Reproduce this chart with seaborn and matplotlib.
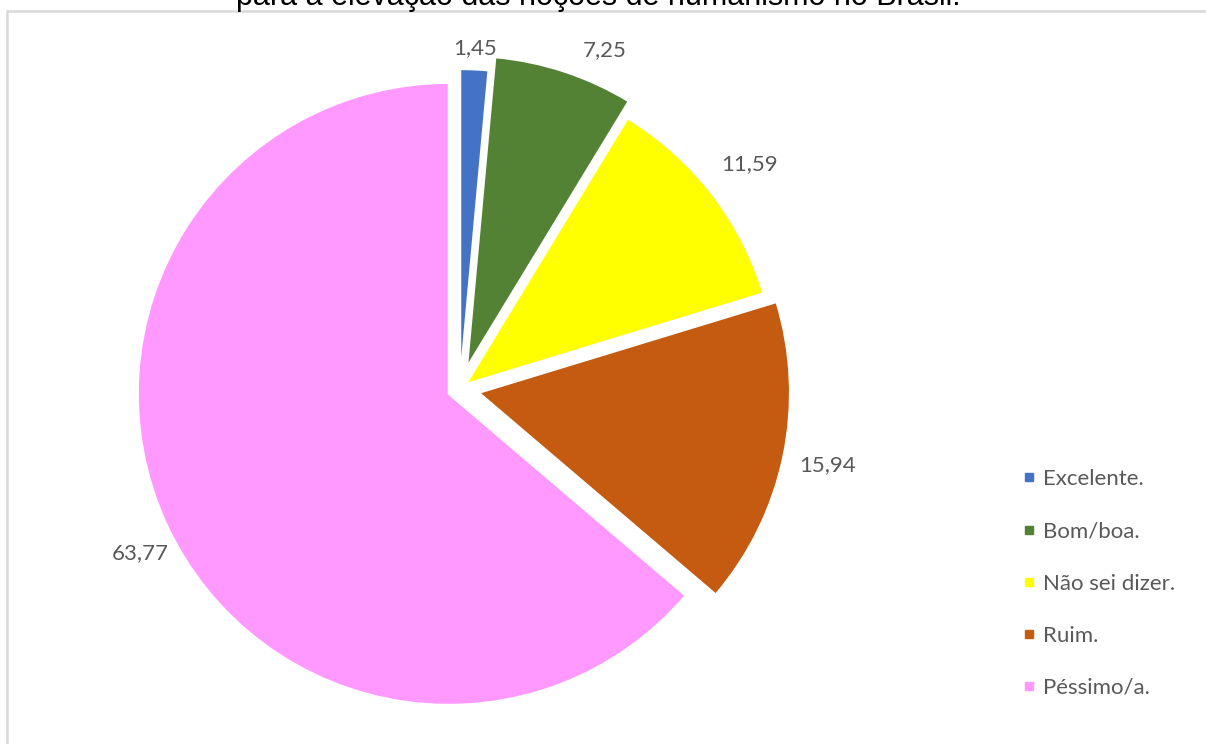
import matplotlib
matplotlib.use("Agg")
import numpy as np
import matplotlib.pyplot as plt
from matplotlib.patches import Rectangle
from matplotlib.lines import Line2D
import seaborn as sns

# Survey answers (percent of respondents)
categories = ["Excelente.", "Bom/boa.", "Não sei dizer.", "Ruim.", "Péssimo/a."]
values = [1.45, 7.25, 11.59, 15.94, 63.77]
title = "para a elevação das noções de humanismo no Brasil."

colors = ["#4472C4", "#548235", "#FFFF00", "#C55A11", "#FF99FF"]
explode = [0.028, 0.074, 0.025, 0.063, 0.039]
# label placement: radial distance and angular nudge (degrees) per slice
label_dist = [1.07, 1.11, 1.155, 1.145, 1.117]
label_turn = [0.0, -5.3, 0.0, 0.0, 2.4]

sns.set_theme(style="white")
plt.rcParams["font.family"] = ["Lato", "DejaVu Sans"]

W, H, DPI = 1206, 744, 100
fig = plt.figure(figsize=(W / DPI, H / DPI), dpi=DPI)
ax = fig.add_axes([0, 0, 1, 1])

labels = [f"{v:.2f}".replace(".", ",") for v in values]
wedges, texts = ax.pie(
    values,
    labels=labels,
    colors=colors,
    explode=explode,
    startangle=90,
    counterclock=False,
    labeldistance=1.12,
    wedgeprops=dict(edgecolor="white", linewidth=1.5),
    textprops=dict(color="#595959", fontsize=16, ha="center", va="center"),
)

# data labels just outside each slice's arc
for w, t, d, turn in zip(wedges, texts, label_dist, label_turn):
    ang = np.deg2rad((w.theta1 + w.theta2) / 2 + turn)
    x0, y0 = w.center
    t.set_position((x0 + d * w.r * np.cos(ang), y0 + d * w.r * np.sin(ang)))

# pie centre and radius in pixels
cx, cy, R = 459.8, 388.8, 311.0
ax.set_xlim(-cx / R, (W - cx) / R)
ax.set_ylim((cy - H) / R, cy / R)
ax.set_aspect("auto")
ax.axis("off")

handles = [Line2D([], [], marker="s", linestyle="none", markersize=6,
                  markerfacecolor=c, markeredgecolor=c) for c in colors]
fig.legend(handles, categories, loc="upper left",
           bbox_to_anchor=(1012 / W, 1 - 458 / H), frameon=False,
           fontsize=16, labelcolor="#595959", handlelength=0.5,
           handletextpad=0.4, labelspacing=1.45, borderpad=0)

# outer chart border
fig.patches.append(Rectangle((7 / W, -0.05), 1.2, 1 - 11 / H + 0.05,
                             transform=fig.transFigure, fill=False,
                             edgecolor="#D9D9D9", linewidth=1.8))

fig.text(598 / W, 1 - 5 / H, title, ha="center", va="baseline",
         fontsize=22, color="black", family="Liberation Sans")

fig.savefig("out.png", dpi=DPI)
